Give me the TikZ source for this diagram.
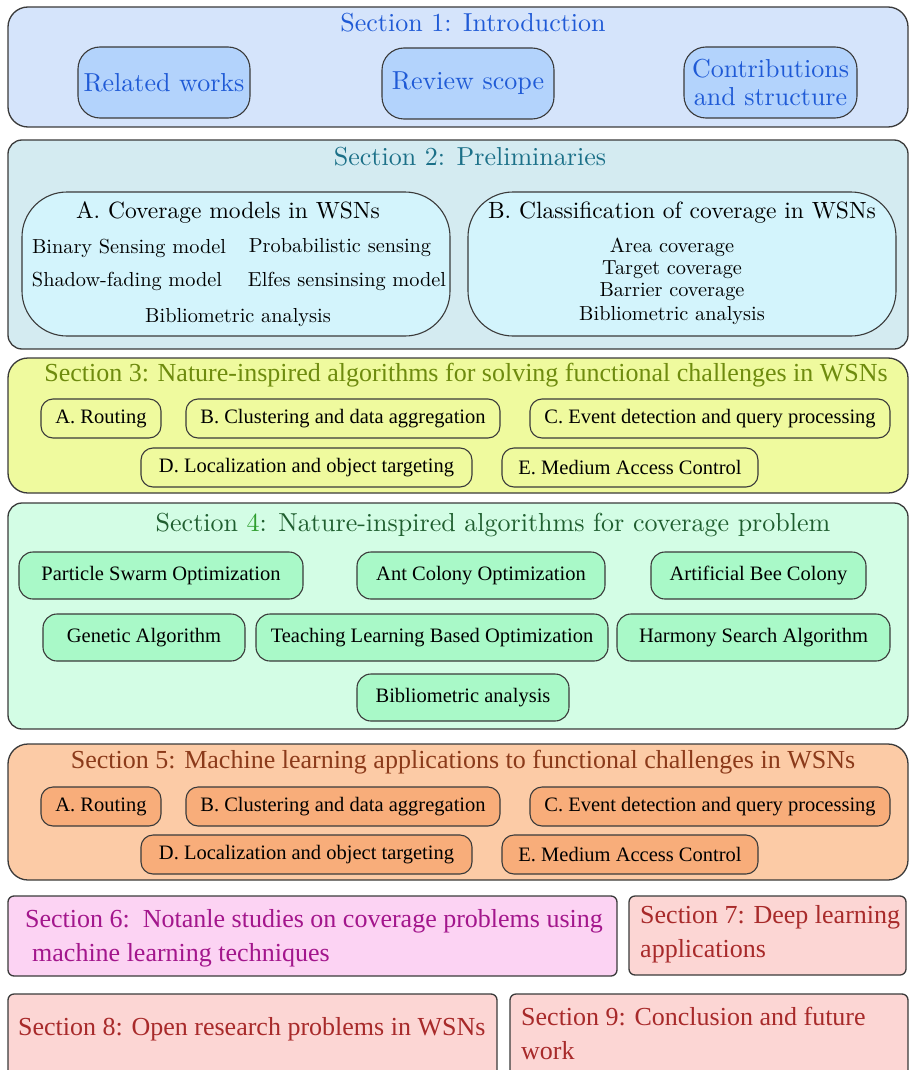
\documentclass[tikz,border=0pt]{standalone}
\usepackage{fontspec}
\setmainfont{lmroman10-regular.otf}
\newfontfamily\gar{Liberation Serif}
\definecolor{edge}{HTML}{3A3A3A}
\definecolor{sOneBg}{HTML}{D5E4FB}
\definecolor{sOneIn}{HTML}{B3D3FC}
\definecolor{sOneTx}{HTML}{1F5AD6}
\definecolor{sTwoBg}{HTML}{D4EBF1}
\definecolor{sTwoIn}{HTML}{D3F4FC}
\definecolor{sTwoTx}{HTML}{1B7088}
\definecolor{sThrBg}{HTML}{EFFA9E}
\definecolor{sThrTx}{HTML}{6E8B0E}
\definecolor{sFouBg}{HTML}{D3FDE5}
\definecolor{sFouIn}{HTML}{A9F9C8}
\definecolor{sFouTx}{HTML}{1F5E2F}
\definecolor{sFouNum}{HTML}{2E9E2E}
\definecolor{sFivBg}{HTML}{FCCBA6}
\definecolor{sFivIn}{HTML}{F8AD7A}
\definecolor{sFivTx}{HTML}{8B3A1A}
\definecolor{sSixBg}{HTML}{FCD3F3}
\definecolor{sSixTx}{HTML}{A3168C}
\definecolor{sRedBg}{HTML}{FCD6D4}
\definecolor{sRedTx}{HTML}{A82A2A}
\tikzset{
  panel/.style={draw=edge, line width=1.3pt, inner sep=0pt, rectangle},
  item/.style={draw=edge, line width=1.1pt, inner sep=0pt, rectangle, align=center},
  lbl/.style={inner sep=0pt, align=center},
  big/.style={font=\fontsize{26}{28}\selectfont},
  mid/.style={font=\fontsize{20.3}{22}\selectfont},
  garbig/.style={font=\gar\fontsize{26}{34}\selectfont},
  garsm/.style={font=\gar\fontsize{20.5}{24}\selectfont},
}
\begin{document}
\begin{tikzpicture}[x=1pt,y=-1pt]
\useasboundingbox (0,0) rectangle (910,1070);
\clip (0,0) rectangle (910,1070);

% Section 1
\node[panel, fill=sOneBg, rounded corners=20pt, minimum width=900pt, minimum height=120pt] (s1) at (458,67) {};
\node[lbl, big, text=sOneTx] (t1) at (473,23) {Section 1: Introduction};
\node[item, big, text=sOneTx, fill=sOneIn, rounded corners=22pt, minimum width=172pt, minimum height=71pt] (rw) at (164,82.5) {Related works};
\node[item, big, text=sOneTx, fill=sOneIn, rounded corners=22pt, minimum width=172pt, minimum height=71pt] (rs) at (468,83.5) {Review scope};
\node[item, big, text=sOneTx, fill=sOneIn, rounded corners=22pt, minimum width=173pt, minimum height=71pt] (cs) at (770.5,82.5) {Contributions\\and structure};

% Section 2
\node[panel, fill=sTwoBg, rounded corners=14pt, minimum width=900pt, minimum height=209pt] (s2) at (458,244.5) {};
\node[lbl, big, text=sTwoTx] (t2) at (470,157) {Section 2: Preliminaries};
\node[item, fill=sTwoIn, rounded corners=45pt, minimum width=428pt, minimum height=144pt] (cm) at (236,264) {};
\node[item, fill=sTwoIn, rounded corners=45pt, minimum width=428pt, minimum height=144pt] (cc) at (682,264) {};
\node[lbl, font=\fontsize{23.5}{26}\selectfont] (cmh) at (228,213) {A. Coverage models in WSNs};
\node[lbl, mid] (bsm) at (129,248) {Binary Sensing model};
\node[lbl, mid] (psm) at (340,248) {Probabilistic sensing};
\node[lbl, mid] (sfm) at (127,281) {Shadow-fading model};
\node[lbl, mid] (esm) at (347,281) {Elfes sensinsing model};
\node[lbl, mid] (ba1) at (238,318) {Bibliometric analysis};
\node[lbl, font=\fontsize{23.5}{26}\selectfont] (cch) at (682,213) {B. Classification of coverage in WSNs};
\node[lbl, mid] (cov) at (672,281) {Area coverage\\Target coverage\\Barrier coverage\\[2pt]Bibliometric analysis};

% Section 3
\node[panel, fill=sThrBg, rounded corners=20pt, minimum width=900pt, minimum height=135pt] (s3) at (458,425.5) {};
\node[lbl, garbig, text=sThrTx] (t3) at (466,375) {Section 3: Nature-inspired algorithms for solving functional challenges in WSNs};
\node[item, garsm, fill=sThrBg, rounded corners=12pt, minimum width=120pt, minimum height=39pt] (nr) at (101,418.5) {A. Routing};
\node[item, garsm, fill=sThrBg, rounded corners=12pt, minimum width=314pt, minimum height=39pt] (nc) at (343,418.5) {B. Clustering and data aggregation};
\node[item, garsm, fill=sThrBg, rounded corners=12pt, minimum width=360pt, minimum height=39pt] (ne) at (710,418.5) {C. Event detection and query processing};
\node[item, garsm, fill=sThrBg, rounded corners=12pt, minimum width=331pt, minimum height=39pt] (nl) at (306.5,467.5) {D. Localization and object targeting};
\node[item, garsm, fill=sThrBg, rounded corners=12pt, minimum width=256pt, minimum height=39pt] (nm) at (630,467.5) {E. Medium Access Control};

% Section 4
\node[panel, fill=sFouBg, rounded corners=14pt, minimum width=900pt, minimum height=226pt] (s4) at (458,616) {};
\node[lbl, big, text=sFouTx] (t4) at (493,525) {Section \textcolor{sFouNum}{4}: Nature-inspired algorithms for coverage problem};
\node[item, garsm, fill=sFouIn, rounded corners=14pt, minimum width=284pt, minimum height=47pt] (pso) at (161,575.5) {Particle Swarm Optimization};
\node[item, garsm, fill=sFouIn, rounded corners=14pt, minimum width=248pt, minimum height=47pt] (aco) at (481,575.5) {Ant Colony Optimization};
\node[item, garsm, fill=sFouIn, rounded corners=14pt, minimum width=215pt, minimum height=47pt] (abc) at (758.5,575.5) {Artificial Bee Colony};
\node[item, garsm, fill=sFouIn, rounded corners=14pt, minimum width=202pt, minimum height=47pt] (ga) at (144,637.5) {Genetic Algorithm};
\node[item, garsm, fill=sFouIn, rounded corners=14pt, minimum width=352pt, minimum height=47pt] (tlbo) at (432,637.5) {Teaching Learning Based Optimization};
\node[item, garsm, fill=sFouIn, rounded corners=14pt, minimum width=273pt, minimum height=47pt] (hsa) at (753.5,637.5) {Harmony Search Algorithm};
\node[item, garsm, fill=sFouIn, rounded corners=14pt, minimum width=212pt, minimum height=47pt] (ba4) at (463,697.5) {Bibliometric analysis};

% Section 5
\node[panel, fill=sFivBg, rounded corners=20pt, minimum width=900pt, minimum height=136pt] (s5) at (458,812) {};
\node[lbl, garbig, text=sFivTx] (t5) at (463,762) {Section 5: Machine learning applications to functional challenges in WSNs};
\node[item, garsm, fill=sFivIn, rounded corners=12pt, minimum width=120pt, minimum height=39pt] (mr) at (101,806.5) {A. Routing};
\node[item, garsm, fill=sFivIn, rounded corners=12pt, minimum width=314pt, minimum height=39pt] (mc) at (343,806.5) {B. Clustering and data aggregation};
\node[item, garsm, fill=sFivIn, rounded corners=12pt, minimum width=360pt, minimum height=39pt] (me) at (710,806.5) {C. Event detection and query processing};
\node[item, garsm, fill=sFivIn, rounded corners=12pt, minimum width=331pt, minimum height=39pt] (ml) at (306.5,854.5) {D. Localization and object targeting};
\node[item, garsm, fill=sFivIn, rounded corners=12pt, minimum width=256pt, minimum height=39pt] (mm) at (630,854.5) {E. Medium Access Control};

% Sections 6 to 9
\node[panel, fill=sSixBg, rounded corners=6pt, minimum width=609pt, minimum height=80pt] (s6) at (312.5,936) {};
\node[lbl, garbig, text=sSixTx, anchor=west, align=left] (t6) at (25,938) {Section 6:\ \ Notanle studies on coverage problems using\\\hspace*{7pt}machine learning techniques};
\node[panel, fill=sRedBg, rounded corners=6pt, minimum width=277pt, minimum height=79pt] (s7) at (767.5,935.5) {};
\node[lbl, garbig, text=sRedTx, anchor=west, align=left] (t7) at (640,934) {Section 7: Deep learning\\applications};
\node[panel, fill=sRedBg, rounded corners=6pt, minimum width=489pt, minimum height=91pt] (s8) at (252.5,1039.5) {};
\node[lbl, garbig, text=sRedTx, anchor=west] (t8) at (18,1029) {Section 8: Open research problems in WSNs};
\node[panel, fill=sRedBg, rounded corners=6pt, minimum width=398pt, minimum height=91pt] (s9) at (709,1039.5) {};
\node[lbl, garbig, text=sRedTx, anchor=west, align=left] (t9) at (521,1033) {Section 9: Conclusion and future\\work};
\end{tikzpicture}
\end{document}
